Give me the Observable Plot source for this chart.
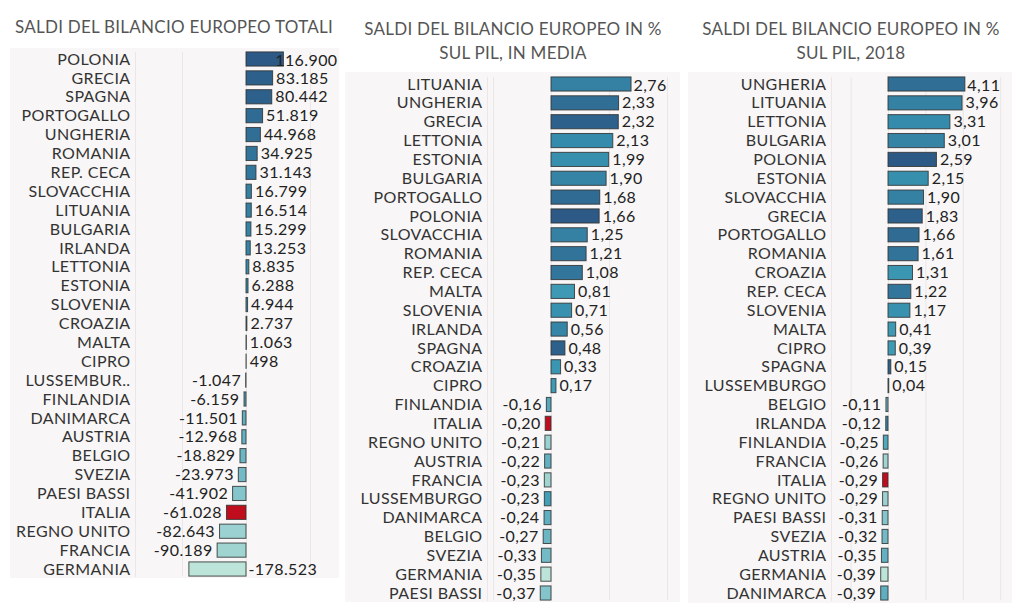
<!DOCTYPE html>
<html>
<head>
<meta charset="utf-8">
<script src="https://cdn.jsdelivr.net/npm/d3@7"></script>
<script src="https://cdn.jsdelivr.net/npm/@observablehq/plot@0.6"></script>
<style>
  html, body { margin: 0; padding: 0; background: #fff; }
  body { width: 1024px; height: 613px; position: relative; overflow: hidden; font-family: Lato, "Noto Sans", sans-serif; }
  .title { position: absolute; color: #555; font-size: 17px; line-height: 24px; text-align: center; letter-spacing: 0.25px; }
  .panel { position: absolute; background: #f8f6f6; }
  .panel svg { display: block; overflow: visible; }
</style>
</head>
<body>
<div id="root"></div>
<script>
// ---------- DATA ----------
// Panel 1: total EU budget balances (sorted)
const countries1 = ["POLONIA","GRECIA","SPAGNA","PORTOGALLO","UNGHERIA","ROMANIA","REP. CECA","SLOVACCHIA","LITUANIA","BULGARIA","IRLANDA","LETTONIA","ESTONIA","SLOVENIA","CROAZIA","MALTA","CIPRO","LUSSEMBURGO","FINLANDIA","DANIMARCA","AUSTRIA","BELGIO","SVEZIA","PAESI BASSI","ITALIA","REGNO UNITO","FRANCIA","GERMANIA"];
const labels1 = ["POLONIA","GRECIA","SPAGNA","PORTOGALLO","UNGHERIA","ROMANIA","REP. CECA","SLOVACCHIA","LITUANIA","BULGARIA","IRLANDA","LETTONIA","ESTONIA","SLOVENIA","CROAZIA","MALTA","CIPRO","LUSSEMBUR..","FINLANDIA","DANIMARCA","AUSTRIA","BELGIO","SVEZIA","PAESI BASSI","ITALIA","REGNO UNITO","FRANCIA","GERMANIA"];
const totals1 = [116900,83185,80442,51819,44968,34925,31143,16799,16514,15299,13253,8835,6288,4944,2737,1063,498,-1047,-6159,-11501,-12968,-18829,-23973,-41902,-61028,-82643,-90189,-178523];

// Panel 2: % of GDP, average
const countries2 = ["LITUANIA","UNGHERIA","GRECIA","LETTONIA","ESTONIA","BULGARIA","PORTOGALLO","POLONIA","SLOVACCHIA","ROMANIA","REP. CECA","MALTA","SLOVENIA","IRLANDA","SPAGNA","CROAZIA","CIPRO","FINLANDIA","ITALIA","REGNO UNITO","AUSTRIA","FRANCIA","LUSSEMBURGO","DANIMARCA","BELGIO","SVEZIA","GERMANIA","PAESI BASSI"];
const values2 = [2.76,2.33,2.32,2.13,1.99,1.90,1.68,1.66,1.25,1.21,1.08,0.81,0.71,0.56,0.48,0.33,0.17,-0.16,-0.20,-0.21,-0.22,-0.23,-0.23,-0.24,-0.27,-0.33,-0.35,-0.37];

// Panel 3: % of GDP, 2018
const countries3 = ["UNGHERIA","LITUANIA","LETTONIA","BULGARIA","POLONIA","ESTONIA","SLOVACCHIA","GRECIA","PORTOGALLO","ROMANIA","CROAZIA","REP. CECA","SLOVENIA","MALTA","CIPRO","SPAGNA","LUSSEMBURGO","BELGIO","IRLANDA","FINLANDIA","FRANCIA","ITALIA","REGNO UNITO","PAESI BASSI","SVEZIA","AUSTRIA","GERMANIA","DANIMARCA"];
const values3 = [4.11,3.96,3.31,3.01,2.59,2.15,1.90,1.83,1.66,1.61,1.31,1.22,1.17,0.41,0.39,0.15,0.04,-0.11,-0.12,-0.25,-0.26,-0.29,-0.29,-0.31,-0.32,-0.35,-0.39,-0.39];

const titles = [
  ["SALDI DEL BILANCIO EUROPEO TOTALI"],
  ["SALDI DEL BILANCIO EUROPEO IN %", "SUL PIL, IN MEDIA"],
  ["SALDI DEL BILANCIO EUROPEO IN %", "SUL PIL, 2018"]
];
const grid1 = [-200000, 0, 200000];
const grid2 = [-2, 0, 2, 4];
const grid3 = [-2, 0, 2, 4, 6];

const highlight = "ITALIA";

// ---------- STYLE ----------
const blueTeal = ["#bce4d8","#aedcd5","#a1d5d2","#95cecf","#89c8cc","#7ec1ca","#72bac6","#66b2c2","#59acbe","#4ba5ba","#419eb6","#3b96b2","#358ead","#3586a7","#347ea1","#32779b","#316f96","#2f6790","#2d608a","#2c5985"];
const red = "#c00d1e";
const totalByCountry = new Map(countries1.map((c, i) => [c, totals1[i]]));
const colorScale = {
  type: "symlog",
  constant: 10000,
  domain: d3.extent(totals1),
  interpolate: d3.interpolateRgbBasis(blueTeal)
};

const locale = d3.formatLocale({decimal: ",", thousands: ".", grouping: [3], currency: ["", "€"], minus: "-"});
const fmtInt = locale.format(",d");
const fmtDec = locale.format(".2f");

const root = document.getElementById("root");
const FONT = "Lato, 'Noto Sans', sans-serif";

function panel(cfg) {
  const {countries, values, labels, fmt, grid, left, top, width, height, labelRight, zero, k, c0, cL, titleLines, titleTop, titleCenter, topShift, panelIndex} = cfg;
  const n = countries.length;
  const data = countries.map((c, i) => ({country: c, label: labels ? labels[i] : c, value: values[i], total: totalByCountry.get(c), i}));
  const step = (cL - c0) / (n - 1);
  const mt = c0 - top - 0.375 * step;
  const mb = height - (cL - top + 0.375 * step);
  const ml = labelRight - left + 5;
  const mr = 2;
  const xmin = (left + ml - zero) / k;
  const xmax = (left + width - mr - zero) / k;
  const labelMap = new Map(data.map(d => [d.country, d.label]));

  // Title
  const t = document.createElement("div");
  t.className = "title";
  t.style.left = (titleCenter - 200) + "px";
  t.style.width = "400px";
  t.style.top = titleTop + "px";
  t.innerHTML = titleLines.join("<br>");
  root.appendChild(t);

  const fontSize = 16;
  const first = data[0];
  const minD = data[n - 1];
  const normal = data.filter(d => d !== first && !(panelIndex === 0 && d === minD));
  const textOpts = {fontSize, fill: "#222"};
  const marks = [
    Plot.ruleX(grid, {stroke: "#ebe7e7", strokeWidth: 1}),
    Plot.frame({anchor: "left", stroke: "#ebe7e7"}),
    Plot.barX(data.filter(d => d.country !== highlight), {x: "value", y: "country", fill: "total", stroke: "#333", strokeWidth: 1, strokeOpacity: 0.85}),
    Plot.barX(data.filter(d => d.country === highlight), {x: "value", y: "country", fill: red, stroke: "#333", strokeWidth: 1, strokeOpacity: 0.85}),
    Plot.axisY({tickSize: 0, tickPadding: 5, fontSize, fill: "#333", tickFormat: c => labelMap.get(c), label: null}),
    Plot.text(normal.filter(d => d.value >= 0), {x: "value", y: "country", text: d => fmt(d.value), textAnchor: "start", dx: 3, ...textOpts}),
    Plot.text(normal.filter(d => d.value < 0), {x: "value", y: "country", text: d => fmt(d.value), textAnchor: "end", dx: -5, ...textOpts})
  ];
  if (panelIndex === 0) {
    marks.push(Plot.text([first], {y: "country", frameAnchor: "right", textAnchor: "end", dx: 0, dy: topShift, text: d => fmt(d.value), ...textOpts}));
    marks.push(Plot.text([minD], {x: () => 0, y: "country", textAnchor: "start", dx: 2, text: d => fmt(d.value), ...textOpts}));
  } else {
    marks.push(Plot.text([first], {x: "value", y: "country", textAnchor: "start", dx: 2, dy: topShift, text: d => fmt(d.value), ...textOpts}));
  }

  const chart = Plot.plot({
    width, height,
    marginTop: mt, marginBottom: mb, marginLeft: ml, marginRight: mr,
    style: {fontFamily: FONT, fontSize: fontSize + "px", letterSpacing: "0.4px", background: "transparent", overflow: "visible"},
    x: {domain: [xmin, xmax], axis: null},
    y: {domain: countries, paddingInner: 0.25, paddingOuter: 0, round: false, axis: null},
    color: colorScale,
    marks
  });
  const wrap = document.createElement("div");
  wrap.className = "panel";
  wrap.style.left = left + "px";
  wrap.style.top = top + "px";
  wrap.style.width = width + "px";
  wrap.style.height = height + "px";
  wrap.appendChild(chart);
  root.appendChild(wrap);
}

panel({countries: countries1, values: totals1, labels: labels1, fmt: fmtInt, grid: grid1,
  left: 10, top: 48, width: 329, height: 530, labelRight: 130, zero: 246, k: 3.2e-4,
  c0: 59, cL: 569, titleLines: titles[0], titleTop: 15, titleCenter: 174, topShift: 1, panelIndex: 0});
panel({countries: countries2, values: values2, fmt: fmtDec, grid: grid2,
  left: 345, top: 72, width: 335, height: 530, labelRight: 482, zero: 551, k: 29,
  c0: 84, cL: 593, titleLines: titles[1], titleTop: 17, titleCenter: 513, topShift: 1, panelIndex: 1});
panel({countries: countries3, values: values3, fmt: fmtDec, grid: grid3,
  left: 688, top: 72, width: 324, height: 531, labelRight: 826, zero: 888, k: 18.7,
  c0: 84, cL: 593, titleLines: titles[2], titleTop: 17, titleCenter: 851, topShift: 1, panelIndex: 2});
</script>
</body>
</html>
